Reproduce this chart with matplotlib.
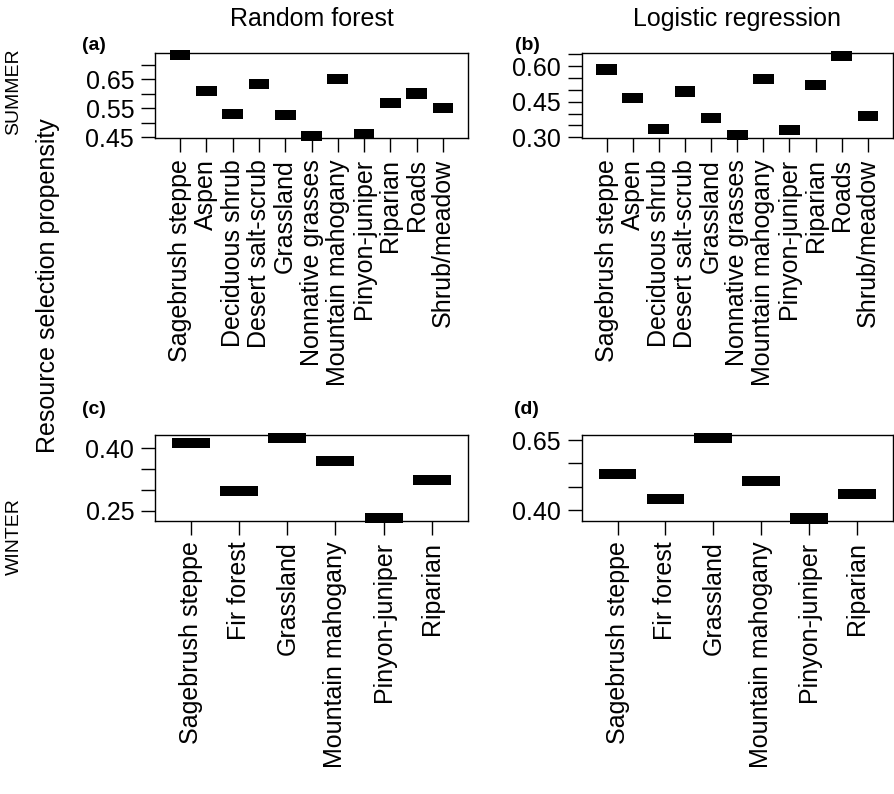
import matplotlib
import numpy as np

matplotlib.use("Agg")
import matplotlib.pyplot as plt

plt.rcParams["font.family"] = ["Liberation Sans", "DejaVu Sans"]

summer_habitats = [
    "Sagebrush steppe", "Aspen", "Deciduous shrub", "Desert salt-scrub",
    "Grassland", "Nonnative grasses", "Mountain mahogany", "Pinyon-juniper",
    "Riparian", "Roads", "Shrub/meadow",
]
winter_habitats = [
    "Sagebrush steppe", "Fir forest", "Grassland",
    "Mountain mahogany", "Pinyon-juniper", "Riparian",
]

# resource selection propensity per habitat
summer_rf = [0.734, 0.611, 0.529, 0.635, 0.527, 0.454, 0.651, 0.460, 0.569, 0.601, 0.552]
summer_lr = [0.585, 0.466, 0.336, 0.493, 0.380, 0.311, 0.546, 0.331, 0.521, 0.643, 0.389]
winter_rf = [0.4135, 0.297, 0.424, 0.370, 0.232, 0.3245]
winter_lr = [0.529, 0.439, 0.657, 0.504, 0.370, 0.4565]

summer_rf_ticks = [0.45, 0.50, 0.55, 0.60, 0.65, 0.70]
summer_rf_labels = ["0.45", "", "0.55", "", "0.65", ""]
summer_lr_ticks = [0.30, 0.35, 0.40, 0.45, 0.50, 0.55, 0.60, 0.65]
summer_lr_labels = ["0.30", "", "", "0.45", "", "", "0.60", ""]
winter_rf_ticks = [0.25, 0.30, 0.35, 0.40]
winter_rf_labels = ["0.25", "", "", "0.40"]
winter_lr_ticks = [0.40, 0.4833, 0.5667, 0.65]
winter_lr_labels = ["0.40", "", "", "0.65"]

W, H = 895, 794
TICK_SIZE = 18


def draw_panel(ax, cats, vals, ylim, yticks, ylabels, xpad):
    x = np.arange(len(cats))
    vals = np.asarray(vals)
    h = 0.12 * (ylim[1] - ylim[0])
    ax.bar(x, h, bottom=vals - h / 2, width=0.79, color="black",
           clip_on=False, zorder=3)
    ax.set_xlim(-xpad, len(cats) - 1 + xpad)
    ax.set_ylim(*ylim)
    ax.set_xticks(x)
    ax.set_xticklabels(cats, rotation=90, fontsize=TICK_SIZE)
    ax.set_yticks(yticks)
    ax.set_yticklabels(ylabels, fontsize=TICK_SIZE)
    ax.tick_params(length=10, width=1.0, pad=5, direction="out")
    for spine in ax.spines.values():
        spine.set_linewidth(1.0)


def axes_rect(left, right, top, bottom):
    return [left / W, 1 - bottom / H, (right - left) / W, (bottom - top) / H]


fig = plt.figure(figsize=(W / 100, H / 100), dpi=100)

ax_a = fig.add_axes(axes_rect(155, 468, 52.7, 138.3))
ax_b = fig.add_axes(axes_rect(581.7, 892.7, 52.7, 138.3))
ax_c = fig.add_axes(axes_rect(155, 467.7, 435, 520.7))
ax_d = fig.add_axes(axes_rect(581.7, 892.7, 435, 520.7))

draw_panel(ax_a, summer_habitats, summer_rf, (0.4455, 0.743),
           summer_rf_ticks, summer_rf_labels, 0.95)
draw_panel(ax_b, summer_habitats, summer_lr, (0.296, 0.656),
           summer_lr_ticks, summer_lr_labels, 0.95)
draw_panel(ax_c, winter_habitats, winter_rf, (0.226, 0.432),
           winter_rf_ticks, winter_rf_labels, 0.75)
draw_panel(ax_d, winter_habitats, winter_lr, (0.362, 0.668),
           winter_lr_ticks, winter_lr_labels, 0.75)

ax_a.set_title("Random forest", fontsize=18, pad=19)
ax_b.set_title("Logistic regression", fontsize=18, pad=19)

for label, px, py in [("(a)", 94, 45), ("(b)", 527, 45),
                      ("(c)", 94, 410), ("(d)", 526, 410)]:
    fig.text(px / W, 1 - py / H, label, fontsize=14, fontweight="bold",
             ha="center", va="center")

fig.text(14 / W, 1 - 92 / H, "SUMMER", rotation=90, fontsize=14,
         ha="center", va="center")
fig.text(14 / W, 1 - 537 / H, "WINTER", rotation=90, fontsize=14,
         ha="center", va="center")
fig.text(48 / W, 1 - 286 / H, "Resource selection propensity", rotation=90,
         fontsize=18, ha="center", va="center")

fig.savefig("out.png", dpi=100)
plt.close(fig)
